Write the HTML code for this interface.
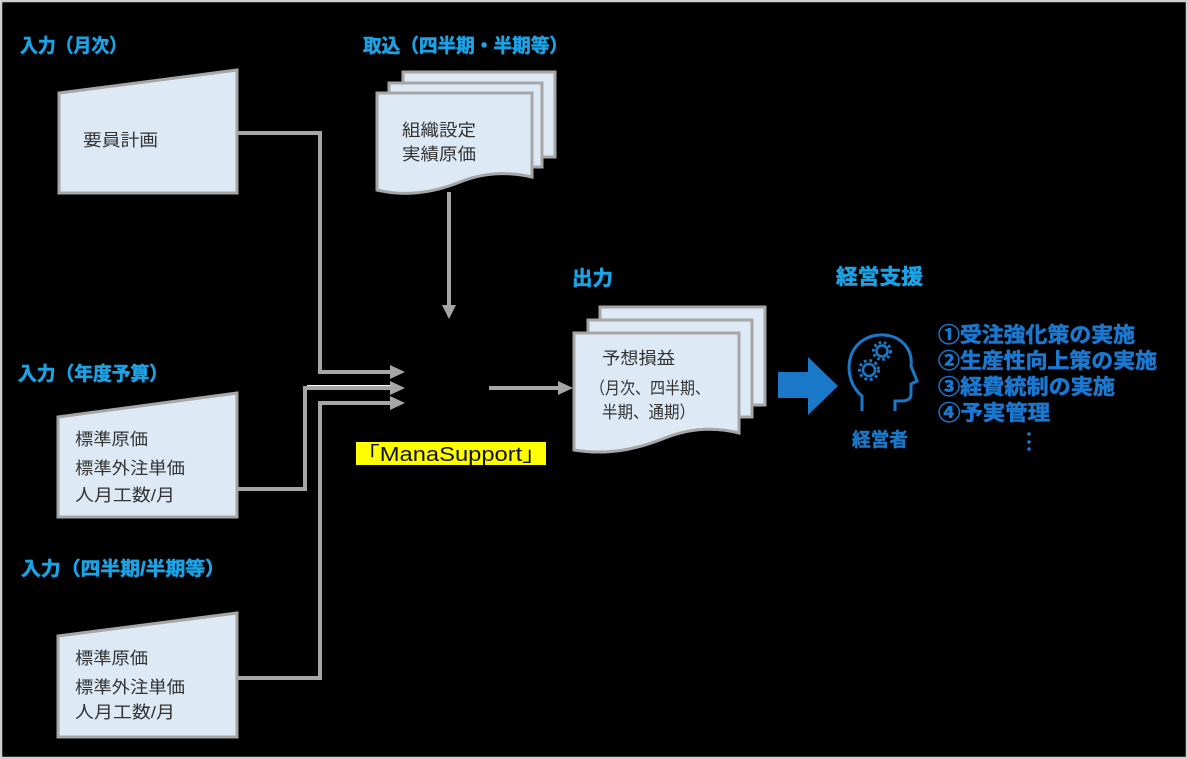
<!DOCTYPE html>
<html><head><meta charset="utf-8"><style>
html,body{margin:0;padding:0;background:#000;}
svg{display:block;}
text{font-family:"Liberation Sans","Noto Sans CJK JP",sans-serif;}
.t{fill:#1ba3e6;stroke:#1ba3e6;stroke-width:0.6;font-weight:bold;}
.b{fill:#333333;font-size:17px;}
.l{fill:#1b78d0;stroke:#1b78d0;stroke-width:0.6;font-weight:bold;font-size:21px;}
</style></head><body>
<svg width="1188" height="759" viewBox="0 0 1188 759" xmlns="http://www.w3.org/2000/svg">
<rect x="0" y="0" width="1188" height="759" fill="#000"/>
<rect x="1" y="1" width="1186" height="757" fill="none" stroke="#cfcfcf" stroke-width="2.5"/>

<!-- titles -->
<text class="t" x="20" y="52" font-size="19" textLength="107" lengthAdjust="spacingAndGlyphs">入力（月次）</text>
<text class="t" x="363" y="52" font-size="19" textLength="205" lengthAdjust="spacingAndGlyphs">取込（四半期・半期等）</text>
<text class="t" x="572" y="285" font-size="20" textLength="41" lengthAdjust="spacingAndGlyphs">出力</text>
<text class="t" x="836" y="284" font-size="21" textLength="87" lengthAdjust="spacingAndGlyphs">経営支援</text>
<text class="t" x="18" y="380" font-size="19" textLength="150" lengthAdjust="spacingAndGlyphs">入力（年度予算）</text>
<text class="t" x="21" y="575" font-size="19" textLength="204" lengthAdjust="spacingAndGlyphs">入力（四半期/半期等）</text>

<!-- connectors -->
<g stroke="#a6a6a6" stroke-width="4" fill="none">
  <polyline points="237,133 320,133 320,372 392,372"/>
  <polyline points="237,489 305,489 305,388 392,388"/>
  <polyline points="237,678 320,678 320,403 392,403"/>
  <line x1="449" y1="192" x2="449" y2="306"/>
  <line x1="489" y1="388" x2="560" y2="388"/>
</g>
<line x1="307" y1="385.5" x2="390" y2="385.5" stroke="#ffffff" stroke-width="1"/>
<g fill="#a6a6a6">
  <polygon points="390,365 405,372 390,379"/>
  <polygon points="390,381 405,388 390,395"/>
  <polygon points="390,396 405,403 390,410"/>
  <polygon points="442,305 449,319 456,305"/>
  <polygon points="558,381 573,388 558,395"/>
</g>

<!-- manual input boxes -->
<g fill="#dde9f5" stroke="#a6a6a6" stroke-width="3">
  <polygon points="59,93 237,70 237,193 59,193"/>
  <polygon points="58,417 237,393 237,517 58,517"/>
  <polygon points="58,636 237,613 237,737 58,737"/>
</g>
<text class="b" x="83" y="146" textLength="75" lengthAdjust="spacingAndGlyphs">要員計画</text>
<text class="b" x="75" y="445" textLength="73" lengthAdjust="spacingAndGlyphs">標準原価</text>
<text class="b" x="75" y="474" textLength="110" lengthAdjust="spacingAndGlyphs">標準外注単価</text>
<text class="b" x="75" y="501" textLength="100" lengthAdjust="spacingAndGlyphs">人月工数/月</text>
<text class="b" x="75" y="664" textLength="73" lengthAdjust="spacingAndGlyphs">標準原価</text>
<text class="b" x="75" y="693" textLength="110" lengthAdjust="spacingAndGlyphs">標準外注単価</text>
<text class="b" x="75" y="718" textLength="100" lengthAdjust="spacingAndGlyphs">人月工数/月</text>

<!-- import stack -->
<g fill="#dde9f5" stroke="#a6a6a6" stroke-width="3">
  <rect x="403" y="72" width="152" height="85"/>
  <rect x="389" y="83" width="153" height="84"/>
  <path d="M377 93 H532 V177 C510 172,485 172,460 182 C440 190,410 198,377 190 Z"/>
</g>
<text class="b" x="402" y="136" textLength="74" lengthAdjust="spacingAndGlyphs">組織設定</text>
<text class="b" x="402" y="160" textLength="74" lengthAdjust="spacingAndGlyphs">実績原価</text>

<!-- output stack -->
<g fill="#dde9f5" stroke="#a6a6a6" stroke-width="3">
  <rect x="600" y="307" width="165" height="98"/>
  <rect x="588" y="320" width="164" height="97"/>
  <path d="M574 333 H739 V433 C715 427,690 428,665 438 C640 448,610 456,574 450 Z"/>
</g>
<text class="b" x="602" y="364" textLength="73" lengthAdjust="spacingAndGlyphs">予想損益</text>
<text class="b" x="590" y="394" textLength="120" lengthAdjust="spacingAndGlyphs">（月次、四半期、</text>
<text class="b" x="602" y="418" textLength="93" lengthAdjust="spacingAndGlyphs">半期、通期）</text>

<!-- ManaSupport label -->
<rect x="356" y="442" width="190" height="23" fill="#ffff00"/>
<text x="356" y="461" font-size="20" fill="#111" textLength="190" lengthAdjust="spacingAndGlyphs">「ManaSupport」</text>

<!-- big blue arrow -->
<polygon points="778,372 808,372 808,357 838,386 808,415 808,398 778,398" fill="#1a78c8"/>

<!-- head icon -->
<g stroke="#1a78c8" stroke-width="3" fill="none">
  <path d="M862 411 L862 396 C851 387,847 372,850 359 C854 343,868 334,884 335 C901 336,913 349,911 366 L917 381 L911 384 L911 394 C911 399,907 401,901 401 L895 401 L895 411"/>
  <circle cx="882" cy="351" r="5.5" stroke-width="2.5"/>
  <circle cx="882" cy="351" r="8.5" stroke-width="3" stroke-dasharray="2.6 2.6"/>
  <circle cx="869" cy="370" r="6" stroke-width="2.5"/>
  <circle cx="869" cy="370" r="9.5" stroke-width="3" stroke-dasharray="2.8 2.8"/>
</g>
<text x="852" y="446" font-size="19" font-weight="bold" fill="#1a78c8" stroke="#1a78c8" stroke-width="0.5" textLength="56" lengthAdjust="spacingAndGlyphs">経営者</text>

<!-- list -->
<text class="l" x="938" y="342" textLength="197" lengthAdjust="spacingAndGlyphs">①受注強化策の実施</text>
<text class="l" x="938" y="368" textLength="219" lengthAdjust="spacingAndGlyphs">②生産性向上策の実施</text>
<text class="l" x="938" y="394" textLength="177" lengthAdjust="spacingAndGlyphs">③経費統制の実施</text>
<text class="l" x="938" y="420" textLength="112" lengthAdjust="spacingAndGlyphs">④予実管理</text>
<g fill="#1b78d0">
  <circle cx="1029" cy="434" r="1.8"/>
  <circle cx="1029" cy="442" r="1.8"/>
  <circle cx="1029" cy="449" r="1.8"/>
</g>
</svg>
</body></html>
